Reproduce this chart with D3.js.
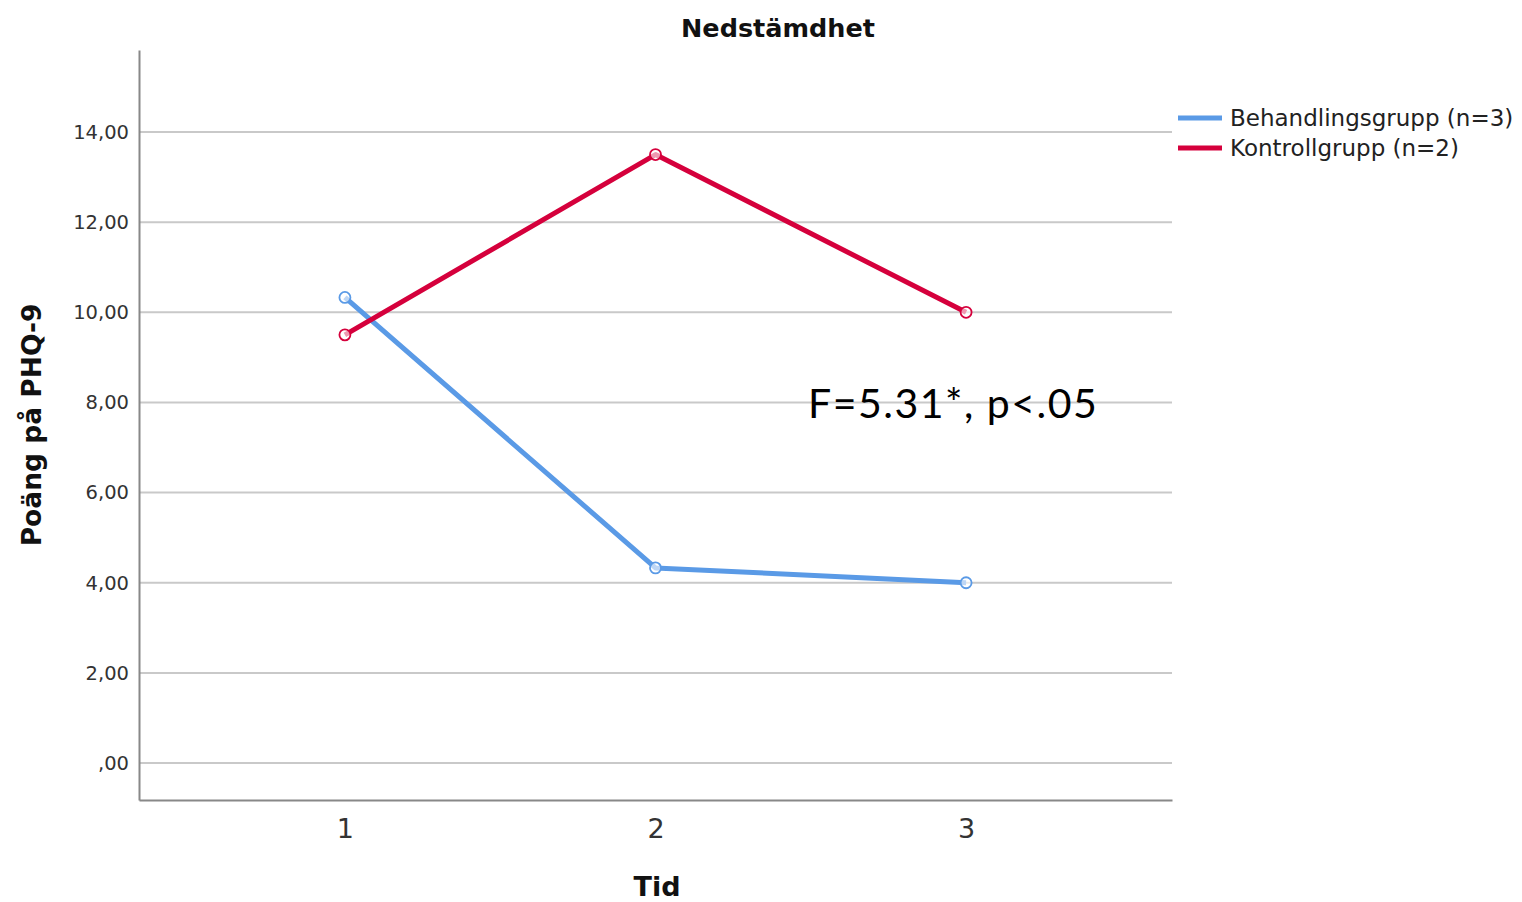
<!DOCTYPE html>
<meta charset="utf-8">
<script src="https://d3js.org/d3.v7.min.js"></script>
<style>
  body { margin: 0; background: #fff; }
</style>
<div id="chart"></div>
<script>
// data
var times = ["1", "2", "3"];
var groups = ["Behandlingsgrupp (n=3)", "Kontrollgrupp (n=2)"];
var behandling = [10.33, 4.33, 4.0];
var kontroll = [9.5, 13.5, 10.0];
var yTicks = [0, 2, 4, 6, 8, 10, 12, 14];
var colors = ["#5a9ae6", "#d5003c"];

var series = [
  {name: groups[0], values: behandling, color: colors[0]},
  {name: groups[1], values: kontroll, color: colors[1]}
];

var W = 1522, H = 902;
var plotLeft = 139, plotRight = 1172, plotTop = 50, plotBottom = 800;
var font = "'DejaVu Sans', sans-serif";

var svg = d3.select("#chart").append("svg")
  .attr("width", W).attr("height", H)
  .style("font-family", font);

var x = d3.scalePoint()
  .domain(times)
  .range([plotLeft, plotRight])
  .padding(0.663);

var y = d3.scaleLinear()
  .domain([-0.82, 15.82])
  .range([plotBottom, plotTop]);

// gridlines
svg.append("g")
  .selectAll("line")
  .data(yTicks)
  .enter().append("line")
    .attr("x1", plotLeft).attr("x2", plotRight)
    .attr("y1", function(d) { return y(d); })
    .attr("y2", function(d) { return y(d); })
    .attr("stroke", "#c9c9c9")
    .attr("stroke-width", 2);

// y axis
var yAxis = svg.append("g")
  .attr("transform", "translate(" + plotLeft + ",0)")
  .call(d3.axisLeft(y).tickValues(yTicks).tickSize(0).tickPadding(10)
    .tickFormat(function(d) { return d === 0 ? ",00" : d3.format(".2f")(d).replace(".", ","); }));
yAxis.select(".domain").attr("stroke", "#888").attr("stroke-width", 2);
yAxis.selectAll("text").style("font-family", font).attr("font-size", 19.5).attr("fill", "#333");

// x axis
var xAxis = svg.append("g")
  .attr("transform", "translate(0," + plotBottom + ")")
  .call(d3.axisBottom(x).tickSize(0).tickPadding(19));
xAxis.select(".domain").attr("stroke", "#888").attr("stroke-width", 2);
xAxis.selectAll("text").style("font-family", font).attr("font-size", 27).attr("fill", "#333");

// lines
var line = d3.line()
  .x(function(d, i) { return x(times[i]); })
  .y(function(d) { return y(d); });

series.forEach(function(s) {
  svg.append("path")
    .datum(s.values)
    .attr("d", line)
    .attr("fill", "none")
    .attr("stroke", s.color)
    .attr("stroke-width", 5)
    .attr("stroke-linejoin", "round");
  svg.selectAll(null)
    .data(s.values)
    .enter().append("circle")
      .attr("cx", function(d, i) { return x(times[i]); })
      .attr("cy", function(d) { return y(d); })
      .attr("r", 5.5)
      .attr("fill", "#fff")
      .attr("fill-opacity", 0.6)
      .attr("stroke", s.color)
      .attr("stroke-width", 1.8);
});

// title and axis labels
svg.append("text")
  .attr("x", 778).attr("y", 37)
  .attr("text-anchor", "middle")
  .attr("font-size", 25.5).attr("font-weight", "bold").attr("fill", "#111")
  .text("Nedstämdhet");

svg.append("text")
  .attr("x", 657).attr("y", 896)
  .attr("text-anchor", "middle")
  .attr("font-size", 27).attr("font-weight", "bold").attr("fill", "#111")
  .text("Tid");

svg.append("text")
  .attr("transform", "translate(41,425) rotate(-90)")
  .attr("text-anchor", "middle")
  .attr("font-size", 26.5).attr("font-weight", "bold").attr("fill", "#111")
  .text("Poäng på PHQ-9");

// annotation
svg.append("text")
  .attr("x", 808).attr("y", 418)
  .style("font-family", "Lato, 'Open Sans', sans-serif")
  .style("letter-spacing", "1.5px")
  .attr("font-size", 41).attr("fill", "#000")
  .text("F=5.31*, p<.05");

// legend
var legend = svg.append("g").attr("transform", "translate(1178,118)");
series.forEach(function(s, i) {
  var g = legend.append("g").attr("transform", "translate(0," + (i * 30) + ")");
  g.append("line")
    .attr("x1", 0).attr("x2", 44)
    .attr("stroke", s.color).attr("stroke-width", 5);
  g.append("text")
    .attr("x", 52).attr("y", 8)
    .attr("font-size", 23).attr("fill", "#222")
    .text(s.name);
});
</script>
